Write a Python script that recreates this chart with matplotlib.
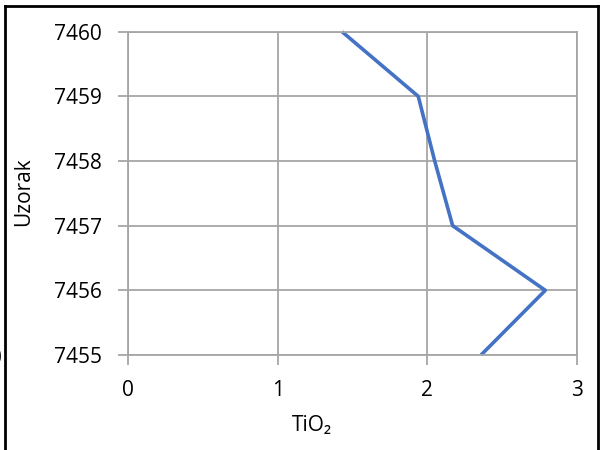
import matplotlib
matplotlib.use("Agg")
import matplotlib.pyplot as plt
from matplotlib.lines import Line2D

plt.rcParams['font.family'] = ['Open Sans', 'DejaVu Sans']

depth = [7455, 7456, 7457, 7458, 7459, 7460]
tio2 = [2.36, 2.79, 2.17, 2.05, 1.94, 1.43]
x_ticks = [0, 1, 2, 3]
y_ticks = [7455, 7456, 7457, 7458, 7459, 7460]

fig = plt.figure(figsize=(6, 4.5), dpi=100)
ax = fig.add_axes([128.3/600, 1-355/450, (576.7-128.3)/600, (355-31.7)/450])

ax.plot(tio2, depth, color='#4472C4', lw=2.6, solid_capstyle='butt', clip_on=False)
ax.set_xlim(0, 3)
ax.set_ylim(7455, 7460)
ax.set_xticks(x_ticks)
ax.set_yticks(y_ticks)
ax.set_xticklabels([str(t) for t in x_ticks])
ax.set_yticklabels([str(t) for t in y_ticks])
ax.grid(True, color='#A6A6A6', lw=1.3)
ax.set_axisbelow(True)
for s in ax.spines.values():
    s.set_color('#A6A6A6')
    s.set_linewidth(1.3)
ax.tick_params(axis='both', direction='out', length=7, width=1.3, color='#A6A6A6',
               labelsize=15, labelcolor='black')
ax.tick_params(axis='x', pad=11)
ax.tick_params(axis='y', pad=12)
ax.set_xlabel('TiO₂', fontsize=15, va='center')
ax.set_ylabel('Uzorak', fontsize=15, va='center')
ax.xaxis.set_label_coords((312-128.3)/448.4, (355-425)/323.3)
ax.yaxis.set_label_coords((24-128.3)/448.4, (355-192)/323.3)

# clipped stray label at the very left edge
fig.text(2/600, 1-358/450, '0', fontsize=15, ha='right', va='center')

# outer frame (left, top, right)
fig.add_artist(Line2D([5/600, 5/600], [0, 1-6/450], transform=fig.transFigure, color='black', lw=2))
fig.add_artist(Line2D([5/600, 597.5/600], [1-6/450, 1-6/450], transform=fig.transFigure, color='black', lw=2))
fig.add_artist(Line2D([597.5/600, 597.5/600], [0, 1-6/450], transform=fig.transFigure, color='black', lw=2))

fig.savefig('out.png', dpi=100)
